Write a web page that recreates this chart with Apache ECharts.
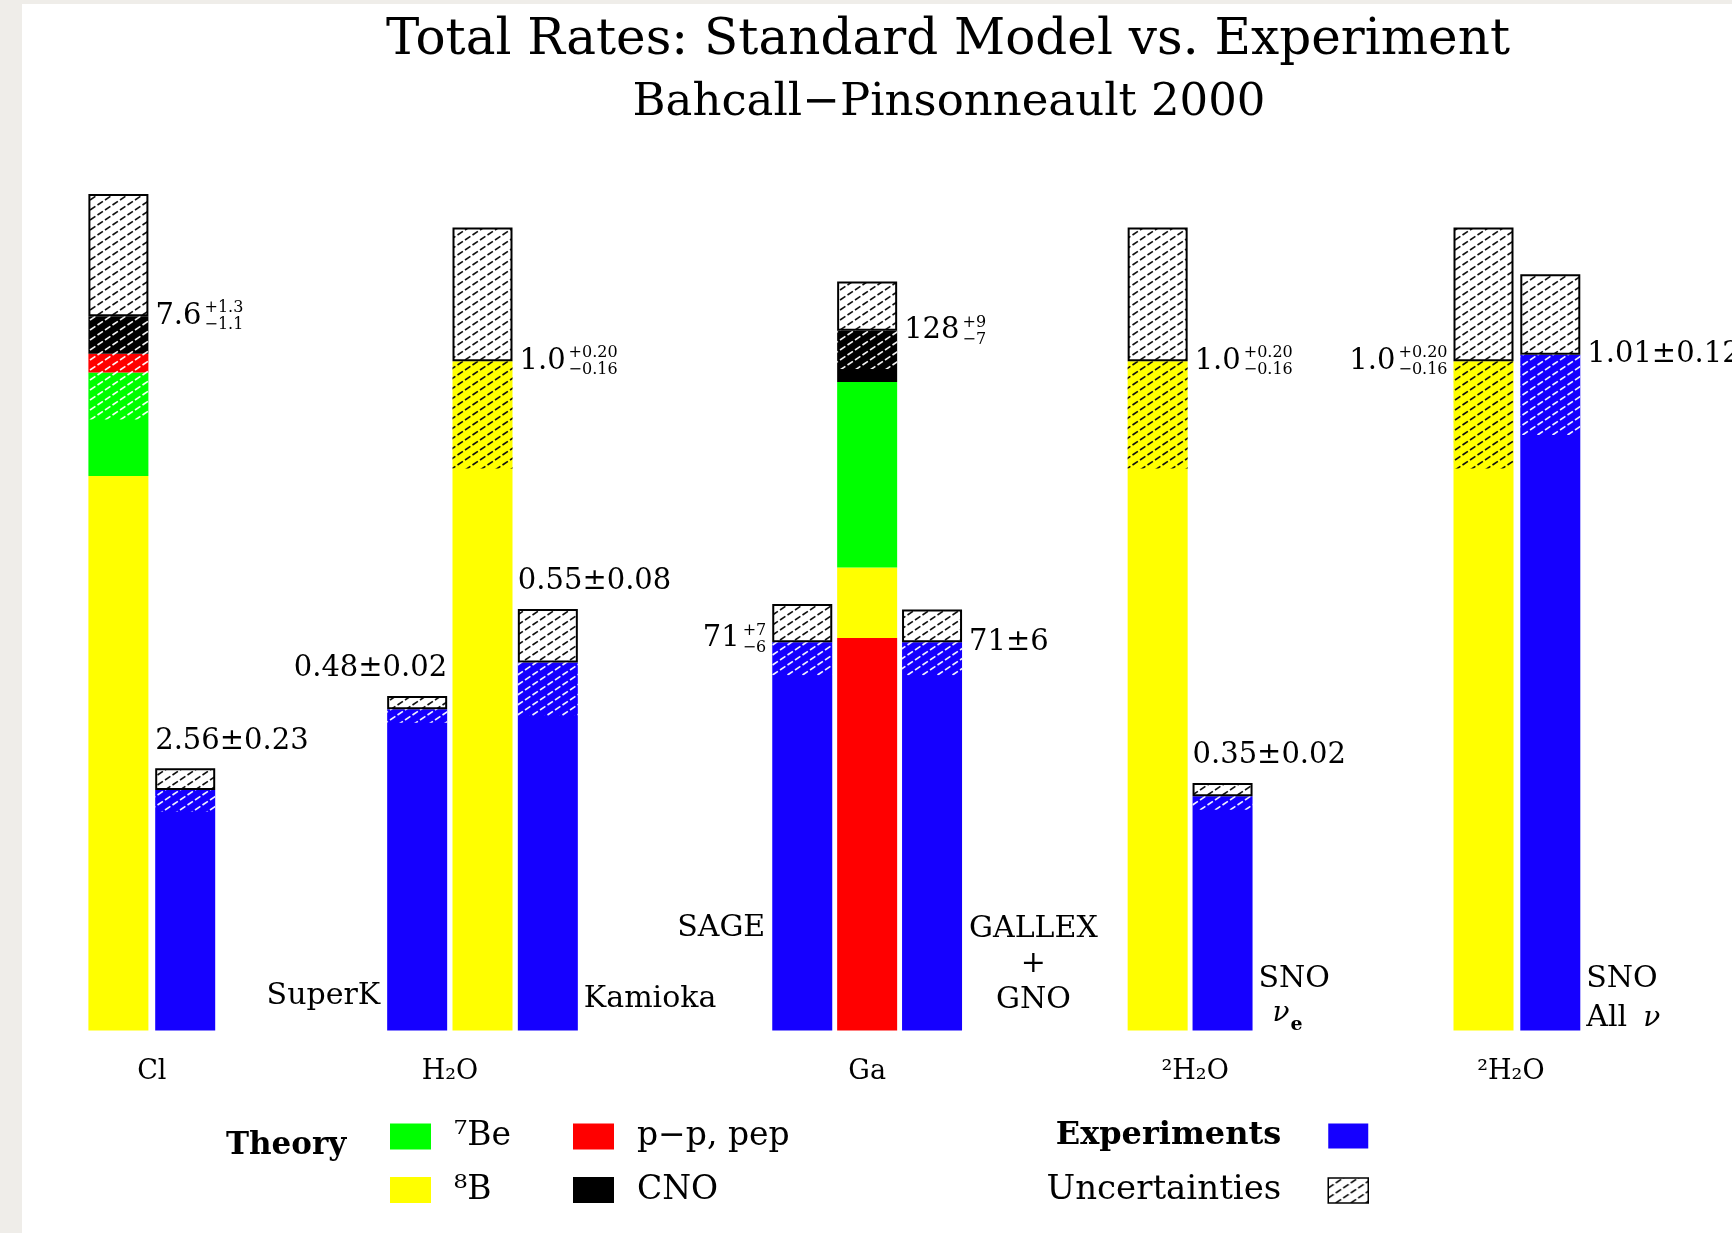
<!DOCTYPE html>
<html><head><meta charset="utf-8">
<script src="https://cdn.jsdelivr.net/npm/echarts@6/dist/echarts.min.js"></script>
<style>html,body{margin:0;padding:0;background:#fff}#c{width:1732px;height:1233px}</style>
</head><body><div id="c"></div>
<script>
// ---------------- data ----------------
const groupLabels = ['Cl', 'H₂O', 'Ga', '²H₂O', '²H₂O'];
// Standard solar model (BP2000) predictions per target, stacked by source
const ssmB8    = [5.9, 1.0, 12.9, 1.0, 1.0];
const ssmBe7   = [1.1, null, 33.9, null, null];
const ssmPP    = [0.2, null, 71.8, null, null];
const ssmCNO   = [0.4, null, 9.4, null, null];
const ssmTotal = [7.6, 1.0, 128, 1.0, 1.0];
const ssmErrPlus  = [1.3, 0.20, 9, 0.20, 0.20];
const ssmErrMinus = [1.1, 0.16, 7, 0.16, 0.16];
// Experiments
const expTags     = ['', 'SuperK', 'Kamioka', 'SAGE', 'GALLEX\n+\nGNO', 'SNO', 'SNO'];
const expRate     = [2.56, 0.48, 0.55, 71, 71, 0.35, 1.01];
const expErrPlus  = [0.23, 0.02, 0.08, 7, 6, 0.02, 0.12];
const expErrMinus = [0.23, 0.02, 0.08, 6, 6, 0.02, 0.12];

// ---------------- style / layout ----------------
const FONT = 'DejaVu Serif';
const COLORS = {B8:'#ffff00', Be7:'#00ff00', PP:'#ff0000', CNO:'#000000', exp:'#1500ff'};
const NAMES  = {B8:'⁸B', Be7:'⁷Be', PP:'p−p, pep', CNO:'CNO'};
const SSM    = {B8:ssmB8, Be7:ssmBe7, PP:ssmPP, CNO:ssmCNO};
const GRID_TOP = 194, GRID_BOTTOM = 1233 - 1030.6, BAR_W = 60;

const groupsLayout = [
  {left:85,     width:133.6, yMax:8.9,  slots:['T',0],   order:['B8','Be7','PP','CNO'], ssmSide:'right', ssmDec:[1,1], namePad:[0,0,0,0]},
  {left:384.5,  width:196,   yMax:1.25, slots:[1,'T',2], order:['B8'],                  ssmSide:'right', ssmDec:[1,2], namePad:[0,65,0,0]},
  {left:769.8,  width:194.7, yMax:153,  slots:[3,'T',4], order:['PP','B8','Be7','CNO'], ssmSide:'right', ssmDec:[0,0], namePad:[0,0,0,0]},
  {left:1125.2, width:129.8, yMax:1.25, slots:['T',5],   order:['B8'],                  ssmSide:'right', ssmDec:[1,2], namePad:[0,0,0,10]},
  {left:1450.1, width:133.6, yMax:1.25, slots:['T',6],   order:['B8'],                  ssmSide:'left',  ssmDec:[1,2], namePad:[0,12,0,0]}
];
// label placement for each experiment
const expLayout = [
  {lab:'topLeft',  dec:[2,2]},
  {lab:'topRight', dec:[2,2], tag:'left',  tagDy:-34},
  {lab:'topLeft',  dec:[2,2], tag:'right', tagDy:-31},
  {lab:'left',     dec:[0,0], tag:'left',  tagDy:-102},
  {lab:'right',    dec:[0,0], tag:'block', tagDy:-66},
  {lab:'topLeft',  dec:[2,2], tag:'right', tagDy:-51, nu:'e'},
  {lab:'right',    dec:[2,2], tag:'right', tagDy:-51, nu:'all'}
];

// ---------------- hatch patterns ----------------
function makeHatch(lineColor, bg) {
  const W = 15, H = 10;
  const c = document.createElement('canvas');
  c.width = W; c.height = H;
  const ctx = c.getContext('2d');
  if (bg) { ctx.fillStyle = bg; ctx.fillRect(0, 0, W, H); }
  ctx.strokeStyle = lineColor; ctx.lineWidth = 1.7;
  const L = Math.sqrt(W*W + H*H);
  ctx.setLineDash([L*0.36, L*0.14]);
  [[-W, H, W, -H], [0, H, W, 0], [0, 2*H, 2*W, 0]].forEach(([a,b,c2,d]) => {
    ctx.beginPath(); ctx.moveTo(a,b); ctx.lineTo(c2,d); ctx.stroke();
  });
  return {image: c, repeat: 'repeat'};
}
const hatchOnWhite = makeHatch('#111', '#ffffff');
const hatchWhite   = makeHatch('rgba(255,255,255,0.95)', null);
const hatchBlack   = makeHatch('#111', null);

// ---------------- option ----------------
const grids = [], xAxes = [], yAxes = [], series = [];
groupsLayout.forEach((G, g) => {
  grids.push({left:G.left, width:G.width, top:GRID_TOP, bottom:GRID_BOTTOM, containLabel:false});
  xAxes.push({type:'category', gridIndex:g, data:G.slots.map(s => s === 'T' ? 'SSM' : 'exp' + s),
    axisLine:{show:false}, axisTick:{show:false}, axisLabel:{show:false}, splitLine:{show:false},
    name:groupLabels[g], nameLocation:'middle', nameGap:28,
    nameTextStyle:{fontFamily:FONT, fontSize:27, color:'#000', padding:G.namePad}});
  yAxes.push({type:'value', gridIndex:g, min:0, max:G.yMax, show:false});
  const common = {type:'bar', xAxisIndex:g, yAxisIndex:g, barWidth:BAR_W, barGap:'-100%', animation:false};
  G.order.forEach(k => {
    series.push(Object.assign({}, common, {name:NAMES[k], stack:'m'+g, itemStyle:{color:COLORS[k]},
      data:G.slots.map(s => s === 'T' && SSM[k][g] != null ? SSM[k][g] : '-')}));
  });
  series.push(Object.assign({}, common, {name:'Experiments', stack:'m'+g, itemStyle:{color:COLORS.exp},
    data:G.slots.map(s => s === 'T' ? '-' : expRate[s])}));
  series.push(Object.assign({}, common, {name:'Uncertainties', stack:'m'+g,
    itemStyle:{color:hatchOnWhite, borderColor:'#000', borderWidth:2},
    data:G.slots.map(s => s === 'T' ? ssmErrPlus[g] : expErrPlus[s])}));
  series.push(Object.assign({}, common, {name:'base', stack:'o'+g, silent:true,
    itemStyle:{color:'rgba(0,0,0,0)'},
    data:G.slots.map(s => s === 'T' ? ssmTotal[g] - ssmErrMinus[g] : expRate[s] - expErrMinus[s])}));
  const topComp = G.order[G.order.length - 1];
  series.push(Object.assign({}, common, {name:'Uncertainties', stack:'o'+g, silent:true,
    data:G.slots.map(s => s === 'T'
      ? {value:ssmErrMinus[g], itemStyle:{color: topComp === 'B8' ? hatchBlack : hatchWhite}}
      : {value:expErrMinus[s], itemStyle:{color: hatchWhite}})}));
});

const legendText = {fontFamily:FONT, fontSize:33, color:'#000', lineHeight:26};
const option = {
  backgroundColor:'#efede9',
  animation:false,
  title:[
    {text:'Total Rates: Standard Model vs. Experiment', left:943, top:11, textAlign:'center',
     textStyle:{fontFamily:FONT, fontSize:50, fontWeight:'normal', color:'#000'}},
    {text:'Bahcall−Pinsonneault 2000', left:944, top:76, textAlign:'center',
     textStyle:{fontFamily:FONT, fontSize:45, fontWeight:'normal', color:'#000'}}
  ],
  legend:[
    {orient:'vertical', left:385, top:1115, itemWidth:41, itemHeight:26, itemGap:20.5, icon:'rect',
     selectedMode:false, data:['⁷Be','⁸B'], textStyle:Object.assign({padding:[0,0,0,18]}, legendText)},
    {orient:'vertical', left:568, top:1115, itemWidth:41, itemHeight:26, itemGap:20.5, icon:'rect',
     selectedMode:false, data:['p−p, pep','CNO'], textStyle:Object.assign({padding:[0,0,0,18]}, legendText)},
    {orient:'vertical', right:358, top:1115, itemWidth:40, itemHeight:25, itemGap:21.5, icon:'rect', align:'right',
     selectedMode:false,
     data:[{name:'Experiments', textStyle:{fontWeight:'bold', fontSize:32}},
           {name:'Uncertainties', textStyle:{fontSize:34}, itemStyle:{color:hatchOnWhite, borderColor:'#000', borderWidth:1.5}}],
     textStyle:Object.assign({padding:[0,42,0,0]}, legendText)}
  ],
  grid:grids, xAxis:xAxes, yAxis:yAxes, series:series
};

const chart = echarts.init(document.getElementById('c'), null, {renderer:'canvas', width:1732, height:1233});
chart.setOption(option);

// ---------------- annotations (positioned through the axes) ----------------
const mctx = document.createElement('canvas').getContext('2d');
function tw(t, size, weight) { mctx.font = (weight || 'normal') + ' ' + size + 'px "' + FONT + '"'; return mctx.measureText(t).width; }
function fmt(v, d) { return v.toFixed(d); }
function txt(x, y, t, size, align, extra) {
  return {type:'text', x:x, y:y, z:100, silent:true,
    style:Object.assign({text:t, fill:'#000', fontFamily:FONT, fontSize:size, align:align, verticalAlign:'middle'}, extra || {})};
}
const MAIN = 29, SMALL = 16;
function valueLabel(x, y, align, v, plus, minus, dec) {
  const main = fmt(v, dec[0]);
  if (plus === minus) return [txt(x, y, main + '±' + fmt(plus, dec[1]), MAIN, align)];
  const sup = '+' + fmt(plus, dec[1]), sub = '−' + fmt(minus, dec[1]);
  const wm = tw(main, MAIN), ws = Math.max(tw(sup, SMALL), tw(sub, SMALL));
  const x0 = align === 'right' ? x - wm - 3 - ws : x;
  return [txt(x0, y, main, MAIN, 'left'),
          txt(x0 + wm + 3, y - 8, sup, SMALL, 'left'),
          txt(x0 + wm + 3, y + 9, sub, SMALL, 'left')];
}
function pix(g, slot, v) { return chart.convertToPixel({gridIndex:g}, [slot, v]); }

const gfx = [
  {type:'rect', shape:{x:22, y:4, width:1710, height:1229}, style:{fill:'#ffffff'}, z:-100, silent:true},
  txt(226, 1146, 'Theory', 31, 'left', {fontWeight:'bold'})
];
const TAG = 30;
groupsLayout.forEach((G, g) => {
  G.slots.forEach((s, i) => {
    const base = pix(g, i, 0);
    const cx = base[0], left = cx - BAR_W/2, right = cx + BAR_W/2;
    if (s === 'T') {
      const y = pix(g, i, ssmTotal[g])[1];
      const ax = G.ssmSide === 'right' ? right + 7 : left - 6;
      gfx.push(...valueLabel(ax, y, G.ssmSide === 'right' ? 'left' : 'right', ssmTotal[g], ssmErrPlus[g], ssmErrMinus[g], G.ssmDec));
    } else {
      const E = expLayout[s];
      const yv = pix(g, i, expRate[s])[1];
      const yt = pix(g, i, expRate[s] + expErrPlus[s])[1];
      if (E.lab === 'topLeft')  gfx.push(...valueLabel(left, yt - 27, 'left', expRate[s], expErrPlus[s], expErrMinus[s], E.dec));
      if (E.lab === 'topRight') gfx.push(...valueLabel(right, yt - 27, 'right', expRate[s], expErrPlus[s], expErrMinus[s], E.dec));
      if (E.lab === 'right')    gfx.push(...valueLabel(right + 7, yv, 'left', expRate[s], expErrPlus[s], expErrMinus[s], E.dec));
      if (E.lab === 'left')     gfx.push(...valueLabel(left - 6, yv - 4, 'right', expRate[s], expErrPlus[s], expErrMinus[s], E.dec));
      const by = base[1];
      if (E.tag === 'left')  gfx.push(txt(left - 7, by + E.tagDy, expTags[s], TAG, 'right'));
      if (E.tag === 'right') gfx.push(txt(right + 6, by + E.tagDy, expTags[s], TAG, 'left'));
      if (E.tag === 'block') {
        const w = Math.max(...expTags[s].split('\n').map(l => tw(l, TAG)));
        gfx.push(txt(right + 7 + w/2, by + E.tagDy, expTags[s], TAG, 'center', {lineHeight:35.5}));
      }
      if (E.nu === 'e') {
        gfx.push(txt(right + 20, by - 17, 'ν', 28, 'left', {fontStyle:'italic'}));
        gfx.push(txt(right + 38, by - 6, 'e', 19, 'left', {fontWeight:'bold'}));
      }
      if (E.nu === 'all') {
        const wa = tw('All', TAG);
        gfx.push(txt(right + 6, by - 12, 'All', TAG, 'left'));
        gfx.push(txt(right + 6 + wa + 16, by - 12, 'ν', 28, 'left', {fontStyle:'italic'}));
      }
    }
  });
});
chart.setOption({graphic:{elements:gfx}});
</script>
</body></html>
